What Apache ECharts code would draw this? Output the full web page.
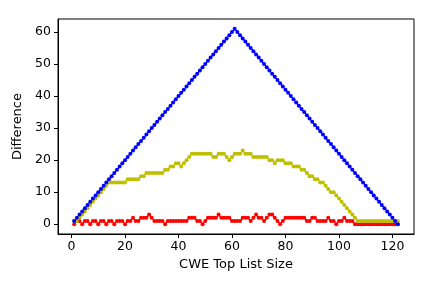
<!DOCTYPE html>
<html>
<head>
<meta charset="utf-8">
<script src="https://cdn.jsdelivr.net/npm/echarts@6/dist/echarts.min.js"></script>
<style>html,body{margin:0;padding:0;background:#fff;}#c{width:432px;height:288px;}</style>
</head>
<body>
<div id="c"></div>
<script>
var sizes = [];
for (var i = 1; i <= 122; i++) sizes.push(i);

var blueVals = [1,2,3,4,5,6,7,8,9,10,11,12,13,14,15,16,17,18,19,20,21,22,23,24,25,26,27,28,29,30,
31,32,33,34,35,36,37,38,39,40,41,42,43,44,45,46,47,48,49,50,51,52,53,54,55,56,57,58,59,60,61,
60,59,58,57,56,55,54,53,52,51,50,49,48,47,46,45,44,43,42,41,40,39,38,37,36,35,34,33,32,31,
30,29,28,27,26,25,24,23,22,21,20,19,18,17,16,15,14,13,12,11,10,9,8,7,6,5,4,3,2,1,0];

var yellowVals = [1,1,2,3,4,5,6,7,8,9,10,11,12,13,13,13,13,13,13,13,14,14,14,14,14,15,15,16,16,16,
16,16,16,16,17,17,18,18,19,19,18,19,20,21,22,22,22,22,22,22,22,22,21,21,22,22,22,21,20,21,
22,22,22,23,22,22,22,21,21,21,21,21,21,20,20,19,20,20,20,19,19,19,18,18,18,17,17,16,15,15,
14,14,13,13,12,11,10,10,9,8,7,6,5,4,3,2,1,1,1,1,1,1,1,1,1,1,1,1,1,1,1,1];

var redVals = [0,1,1,0,1,1,0,1,1,0,1,1,0,1,1,0,1,1,1,0,1,1,2,1,1,2,2,2,3,2,
1,1,1,1,0,1,1,1,1,1,1,1,1,2,2,2,1,1,0,1,2,2,2,2,3,2,2,2,2,1,
1,1,1,2,2,2,1,2,3,2,2,1,2,3,3,2,1,0,1,2,2,2,2,2,2,2,2,1,1,2,
2,1,1,1,1,2,1,1,0,1,1,2,1,1,1,0,0,0,0,0,0,0,0,0,0,0,0,0,0,0,0,0];

var xTicks = [0,20,40,60,80,100,120];
var yTicks = [0,10,20,30,40,50,60];

function pairs(vals) {
  return sizes.map(function (x, i) { return [x, vals[i]]; });
}

var font = 'DejaVu Sans';
var chart = echarts.init(document.getElementById('c'), null, {renderer: 'canvas'});
function mk(name, vals, color) {
  return {
    name: name, type: 'line', data: pairs(vals),
    symbol: 'circle', symbolSize: 4, showSymbol: true,
    lineStyle: {color: color, width: 1.2},
    itemStyle: {color: color},
    animation: false, silent: true
  };
}
chart.setOption({
  animation: false,
  grid: {left: 58, top: 19, width: 356, height: 215, show: true, borderColor: '#000', borderWidth: 1, backgroundColor: 'transparent'},
  xAxis: {
    type: 'value', min: -5.05, max: 128.05,
    name: 'CWE Top List Size', nameLocation: 'middle', nameGap: 24,
    nameTextStyle: {fontFamily: font, fontSize: 13, color: '#000'},
    axisLine: {show: true, onZero: false, lineStyle: {color: '#000', width: 1}},
    axisTick: {show: true, inside: false, length: 4, lineStyle: {color: '#000'}, customValues: xTicks},
    axisLabel: {fontFamily: font, fontSize: 12.5, color: '#000', margin: 6, customValues: xTicks},
    splitLine: {show: false}
  },
  yAxis: {
    type: 'value', min: -3.05, max: 64.05,
    name: 'Difference', nameLocation: 'middle', nameGap: 27, nameRotate: 90,
    nameTextStyle: {fontFamily: font, fontSize: 13, color: '#000'},
    axisLine: {show: true, onZero: false, lineStyle: {color: '#000', width: 1}},
    axisTick: {show: true, inside: false, length: 4, lineStyle: {color: '#000'}, customValues: yTicks},
    axisLabel: {fontFamily: font, fontSize: 12.5, color: '#000', margin: 7, customValues: yTicks},
    splitLine: {show: false}
  },
  series: [
    mk('red', redVals, '#ff0000'),
    mk('yellow', yellowVals, '#bfbf00'),
    mk('blue', blueVals, '#0000ff')
  ]
});
</script>
</body>
</html>
